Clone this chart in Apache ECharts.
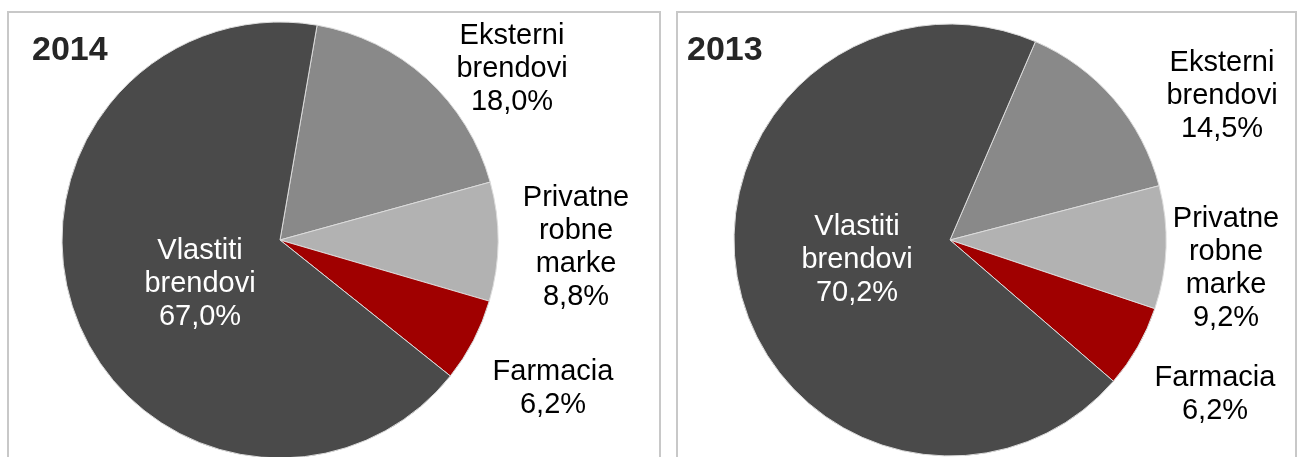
<!DOCTYPE html>
<html>
<head>
<meta charset="utf-8">
<script src="https://cdn.jsdelivr.net/npm/echarts@6/dist/echarts.min.js"></script>
<style>
html, body { margin: 0; padding: 0; background: #fff; }
#main { width: 1301px; height: 457px; }
</style>
</head>
<body>
<div id="main"></div>
<script>
// kategorije (redoslijed kao u originalu, u smjeru kazaljke od vrha)
var categories = ['Eksterni\nbrendovi', 'Privatne\nrobne\nmarke', 'Farmacia', 'Vlastiti\nbrendovi'];
var values2014 = [18.0, 8.8, 6.2, 67.0];
var values2013 = [14.5, 9.2, 6.2, 70.2];
var years = ['2014', '2013'];

var sliceColors = ['#898989', '#b2b2b2', '#a00000', '#4a4a4a'];
var labelColors = ['#000', '#000', '#000', '#fff'];
// pozicije natpisa (sredina bloka teksta)
var labelPos = [
	[[512, 69], [576, 247], [553, 388], [200, 284]],
	[[1222, 96], [1226, 268], [1215, 394], [857, 260]]
];

var myChart = echarts.init(document.getElementById('main'));

function buildData(vals){
	return vals.map(function(v, i){
		return {
			name: categories[i],
			value: v,
			itemStyle: { color: sliceColors[i] },
			label: { color: labelColors[i] }
		};
	});
}

function makeSeries(idx, vals, center, radius, startAngle){
	return {
		type: 'pie',
		center: center,
		radius: radius,
		startAngle: startAngle,
		clockwise: true,
		silent: true,
		animation: false,
		data: buildData(vals),
		itemStyle: { borderColor: '#dcdcdc', borderWidth: 1 },
		label: {
			show: true,
			position: 'inside',
			fontFamily: 'Liberation Sans, Arial, sans-serif',
			fontSize: 29,
			lineHeight: 33,
			align: 'center',
			formatter: function(p){
				return p.name + '\n' + p.value.toFixed(1).replace('.', ',') + '%';
			}
		},
		labelLine: { show: false },
		labelLayout: function(params){
			var pos = labelPos[idx][params.dataIndex];
			return { x: pos[0], y: pos[1], align: 'center', verticalAlign: 'middle' };
		}
	};
}

var titleStyle = { fontFamily: 'Liberation Sans, Arial, sans-serif', fontSize: 34, fontWeight: 'bold', color: '#262626' };

var option = {
	backgroundColor: '#fff',
	title: [
		{ text: years[0], left: 27, top: 29, textStyle: titleStyle },
		{ text: years[1], left: 682, top: 29, textStyle: titleStyle }
	],
	graphic: [
		{ type: 'rect', shape: { x: 8, y: 12, width: 652, height: 460 }, style: { fill: 'none', stroke: '#c8c8c8', lineWidth: 2 }, z: -1 },
		{ type: 'rect', shape: { x: 677, y: 12, width: 619, height: 460 }, style: { fill: 'none', stroke: '#c8c8c8', lineWidth: 2 }, z: -1 }
	],
	series: [
		makeSeries(0, values2014, [280, 240], 218, 80.2),
		makeSeries(1, values2013, [950, 240], 216, 66.7)
	]
};
myChart.setOption(option);
</script>
</body>
</html>
